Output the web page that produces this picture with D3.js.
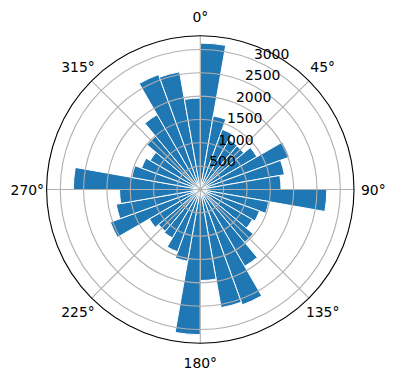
<!DOCTYPE html>
<html>
<head>
<meta charset="utf-8">
<script src="https://cdn.jsdelivr.net/npm/d3@7"></script>
<style>
  body { margin: 0; background: #fff; }
  text { font-family: "DejaVu Sans", sans-serif; font-size: 13.9px; fill: #000; }
</style>
</head>
<body>
<div id="chart"></div>
<script>
// wind directions (deg, clockwise from north) and counts per 10 degree sector
const directions = [0, 10, 20, 30, 40, 50, 60, 70, 80, 90, 100, 110,
  120, 130, 140, 150, 160, 170, 180, 190, 200, 210, 220, 230,
  240, 250, 260, 270, 280, 290, 300, 310, 320, 330, 340, 350];
const counts = [3136, 1600, 1370, 1230, 1220, 1400, 2030, 1830, 1730, 2710, 1490, 1350,
  1290, 1480, 1900, 2630, 2570, 1950, 3110, 1560, 1420, 1200, 1170, 1260,
  2050, 1830, 1730, 2720, 1490, 1340, 1240, 1490, 1850, 2620, 2560, 1960];
const sectorWidth = 10;
const rTicks = [500, 1000, 1500, 2000, 2500, 3000];
const thetaTicks = [0, 45, 90, 135, 180, 225, 270, 315];
const thetaLabels = ['0°', '45°', '90°', '135°', '180°', '225°', '270°', '315°'];

const width = 396, height = 380;
const cx = 200.3, cy = 189.5, radius = 153.7;
const rad = d => d * Math.PI / 180;

const svg = d3.select('#chart').append('svg')
  .attr('width', width)
  .attr('height', height);

const g = svg.append('g')
  .attr('transform', `translate(${cx},${cy})`);

// matplotlib-like autoscale: 5% margin on top of the max
const r = d3.scaleLinear()
  .domain([0, d3.max(counts) * 1.05])
  .range([0, radius]);

const arc = d3.arc()
  .innerRadius(0)
  .outerRadius(d => r(d.value))
  .startAngle(d => rad(d.dir))
  .endAngle(d => rad(d.dir + sectorWidth));

const data = directions.map((dir, i) => ({ dir: dir, value: counts[i] }));

g.append('g').selectAll('path')
  .data(data)
  .join('path')
  .attr('d', arc)
  .attr('fill', '#1f77b4')
  .attr('stroke', '#ffffff')
  .attr('stroke-width', 1)
  .attr('stroke-linejoin', 'miter');

// grid on top of bars
const grid = g.append('g')
  .attr('fill', 'none')
  .attr('stroke', '#b0b0b0')
  .attr('stroke-width', 1.1);

grid.selectAll('circle')
  .data(rTicks)
  .join('circle')
  .attr('r', d => r(d));

grid.selectAll('line')
  .data(thetaTicks)
  .join('line')
  .attr('x1', 0).attr('y1', 0)
  .attr('x2', d => radius * Math.sin(rad(d)))
  .attr('y2', d => -radius * Math.cos(rad(d)));

// outer frame
g.append('circle')
  .attr('r', radius)
  .attr('fill', 'none')
  .attr('stroke', '#000')
  .attr('stroke-width', 1.1);

// radial tick labels along 22.5 deg
const labelAngle = rad(22.5);
g.append('g').selectAll('text')
  .data(rTicks)
  .join('text')
  .attr('x', d => r(d) * Math.sin(labelAngle))
  .attr('y', d => -r(d) * Math.cos(labelAngle) - 1.5)
  .attr('text-anchor', 'start')
  .text(d => d);

// angle labels
const labelR = 173;
g.append('g').selectAll('text')
  .data(thetaTicks)
  .join('text')
  .attr('x', d => labelR * Math.sin(rad(d)))
  .attr('y', d => -labelR * Math.cos(rad(d)))
  .attr('dy', '0.36em')
  .attr('text-anchor', 'middle')
  .text((d, i) => thetaLabels[i]);
</script>
</body>
</html>
